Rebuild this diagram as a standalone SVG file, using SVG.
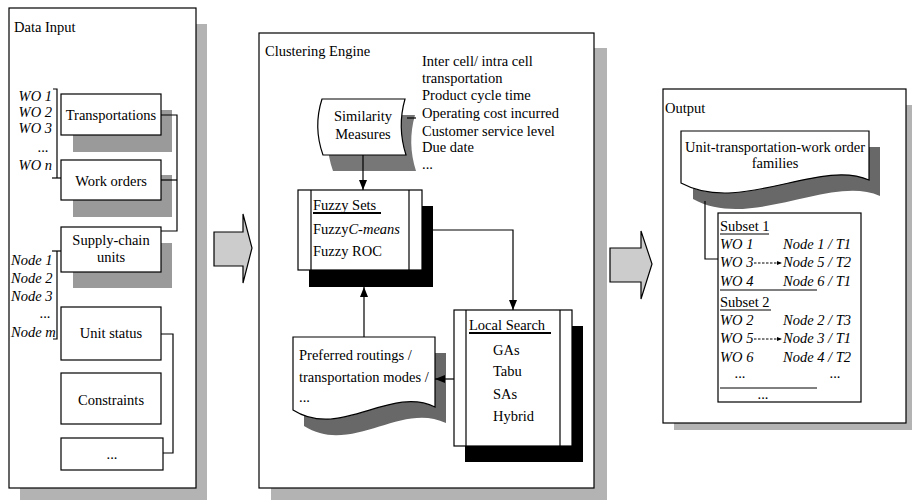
<svg xmlns="http://www.w3.org/2000/svg" width="912" height="501" viewBox="0 0 912 501">
  <defs>
    <style>
      text { font-family: "Liberation Serif", "Times New Roman", serif; font-size: 14.5px; fill: #000; }
      .it { font-style: italic; }
      .mid { text-anchor: middle; }
      .end { text-anchor: end; }
      .panel { fill: #fff; stroke: #000; stroke-width: 1.2; }
      .pshadow { fill: #b3b3b3; }
      .box { fill: #fff; stroke: #000; stroke-width: 1.2; }
      .bshadow { fill: #9a9a9a; }
      .dshadow { fill: #686868; }
      .line { fill: none; stroke: #000; stroke-width: 1.2; }
      .uline { stroke: #000; stroke-width: 1; }
      .uthick { stroke: #000; stroke-width: 2; }
      .dash { fill: none; stroke: #000; stroke-width: 1; stroke-dasharray: 2.5 1.5; }
      .big { fill: #cccccc; stroke: #000; stroke-width: 1.2; }
    </style>
    <marker id="ah" markerWidth="10" markerHeight="10" viewBox="0 0 10 10" refX="10" refY="5" orient="auto" markerUnits="userSpaceOnUse">
      <path d="M0,1 L10,5 L0,9 Z" fill="#000"/>
    </marker>
    <marker id="ahs" markerWidth="5" markerHeight="5" viewBox="0 0 10 10" refX="10" refY="5" orient="auto" markerUnits="userSpaceOnUse">
      <path d="M0,1 L10,5 L0,9 Z" fill="#000"/>
    </marker>
  </defs>

  <!-- ===== Data Input panel ===== -->
  <g id="data-input">
    <rect class="pshadow" x="20" y="24" width="187" height="476"/>
    <rect class="panel" x="9" y="8" width="187" height="480"/>
    <text x="14" y="32">Data Input</text>
  </g>

  <g id="transportations">
    <rect class="bshadow" x="73" y="110" width="99" height="42"/>
    <rect class="box" x="61" y="94" width="100" height="41"/>
    <text class="mid" x="111" y="120">Transportations</text>
  </g>

  <g id="work-orders">
    <rect class="bshadow" x="73" y="175" width="99" height="42"/>
    <rect class="box" x="61" y="160" width="100" height="40"/>
    <text class="mid" x="111" y="186">Work orders</text>
  </g>

  <g id="supply-chain-units">
    <rect class="bshadow" x="73" y="243" width="99" height="45"/>
    <rect class="box" x="61" y="227" width="100" height="45"/>
    <text class="mid" x="111" y="245">Supply-chain</text>
    <text class="mid" x="111" y="262">units</text>
  </g>

  <g id="unit-status">
    <rect class="box" x="61" y="307" width="100" height="53"/>
    <text class="mid" x="111" y="338">Unit status</text>
  </g>

  <g id="constraints">
    <rect class="box" x="61" y="373" width="100" height="51"/>
    <text class="mid" x="111" y="405">Constraints</text>
  </g>

  <g id="other-input">
    <rect class="box" x="61" y="438" width="102" height="32"/>
    <text class="mid" x="112" y="459">...</text>
  </g>

  <g id="wo-list">
    <text class="it end" x="52" y="101">WO 1</text>
    <text class="it end" x="52" y="117">WO 2</text>
    <text class="it end" x="52" y="133">WO 3</text>
    <text class="mid" x="43" y="152">...</text>
    <text class="it end" x="52" y="170">WO n</text>
  </g>

  <g id="node-list">
    <text class="it" x="11" y="265">Node 1</text>
    <text class="it" x="11" y="283">Node 2</text>
    <text class="it" x="11" y="301">Node 3</text>
    <text class="mid" x="45" y="318">...</text>
    <text class="it" x="11" y="337">Node m</text>
  </g>

  <!-- ===== Clustering Engine panel ===== -->
  <g id="clustering-engine">
    <rect class="pshadow" x="271" y="48" width="336" height="452"/>
    <rect class="panel" x="259" y="33" width="335" height="455"/>
    <text x="265" y="56">Clustering Engine</text>
  </g>

  <g id="criteria">
    <text x="422" y="66">Inter cell/ intra cell</text>
    <text x="422" y="83">transportation</text>
    <text x="422" y="100">Product cycle time</text>
    <text x="422" y="118">Operating cost incurred</text>
    <text x="422" y="136">Customer service level</text>
    <text x="422" y="152">Due date</text>
    <text x="422" y="169">...</text>
  </g>

  <g id="similarity-measures">
    <path fill="#777" d="M332,115 L415,115 Q407,143 416,171 L333,171 Q323,143 332,115 Z"/>
    <path class="box" d="M322,99 L405,99 Q397,127 406,155 L323,155 Q313,127 322,99 Z"/>
    <text class="mid" x="363" y="121">Similarity</text>
    <text class="mid" x="363" y="139">Measures</text>
  </g>

  <g id="fuzzy-sets">
    <rect fill="#000" x="309" y="206" width="124" height="81"/>
    <rect class="box" x="298" y="190" width="124" height="80"/>
    <line class="line" x1="311" y1="190" x2="311" y2="270"/>
    <line class="line" x1="409" y1="190" x2="409" y2="270"/>
    <text x="313" y="210">Fuzzy Sets</text>
    <line class="uthick" x1="313" y1="213" x2="381" y2="213"/>
    <text x="313" y="234">Fuzzy<tspan class="it">C-means</tspan></text>
    <text x="313" y="256">Fuzzy ROC</text>
  </g>

  <g id="local-search">
    <rect fill="#000" x="465" y="326" width="118" height="136"/>
    <rect class="box" x="454" y="310" width="118" height="136"/>
    <line class="line" x1="466" y1="310" x2="466" y2="446"/>
    <line class="line" x1="560" y1="310" x2="560" y2="446"/>
    <text x="469" y="330">Local Search</text>
    <line class="uthick" x1="469" y1="333" x2="551" y2="333"/>
    <text x="493" y="355">GAs</text>
    <text x="493" y="376">Tabu</text>
    <text x="493" y="399">SAs</text>
    <text x="493" y="421">Hybrid</text>
  </g>

  <g id="preferred-routings">
    <path class="dshadow" d="M304,353 L446,353 L446,423 C401,401 351,456 304,426 Z"/>
    <path class="box" d="M293,337 L435,337 L435,407 C390,385 340,440 293,410 Z"/>
    <text x="299" y="360">Preferred routings /</text>
    <text x="299" y="382">transportation modes /</text>
    <text x="299" y="402">...</text>
  </g>

  <!-- ===== Output panel ===== -->
  <g id="output">
    <rect class="pshadow" x="674" y="105" width="238" height="325"/>
    <rect class="panel" x="663" y="89" width="243" height="334"/>
    <text x="665" y="113">Output</text>
  </g>

  <g id="families">
    <path class="dshadow" d="M693,147 L880,147 L880,196 C831,174 751,231 693,199 Z"/>
    <path class="box" d="M681,131 L869,131 L869,180 C820,158 740,215 681,183 Z"/>
    <text class="mid" x="775" y="152">Unit-transportation-work order</text>
    <text class="mid" x="775" y="168">families</text>
  </g>

  <g id="subsets">
    <rect class="box" x="718" y="213" width="143" height="189"/>
    <text x="720" y="231">Subset 1</text>
    <line class="uline" x1="720" y1="234" x2="769" y2="234"/>
    <text class="it" x="720" y="249">WO 1</text>
    <text class="it" x="783" y="249">Node 1 / T1</text>
    <text class="it" x="720" y="267">WO 3</text>
    <text class="it" x="783" y="267">Node 5 / T2</text>
    <text class="it" x="720" y="286">WO 4</text>
    <text class="it" x="783" y="286">Node 6 / T1</text>
    <line class="uline" x1="720" y1="290" x2="817" y2="290"/>
    <text x="720" y="307">Subset 2</text>
    <line class="uline" x1="720" y1="310" x2="771" y2="310"/>
    <text class="it" x="720" y="325">WO 2</text>
    <text class="it" x="783" y="325">Node 2 / T3</text>
    <text class="it" x="720" y="343">WO 5</text>
    <text class="it" x="783" y="343">Node 3 / T1</text>
    <text class="it" x="720" y="362">WO 6</text>
    <text class="it" x="783" y="362">Node 4 / T2</text>
    <text class="mid" x="740" y="378">...</text>
    <text class="mid" x="835" y="378">...</text>
    <line class="uline" x1="720" y1="388" x2="817" y2="388"/>
    <text class="mid" x="763" y="399">...</text>
    <line class="dash" x1="754" y1="263" x2="782" y2="263" marker-end="url(#ahs)"/>
    <line class="dash" x1="754" y1="339" x2="782" y2="339" marker-end="url(#ahs)"/>
  </g>

  <!-- ===== Flow arrows between panels ===== -->
  <g id="flow-arrows">
    <path class="big" d="M214,232 L243,232 L243,214 L252,248 L243,283 L243,266 L214,266 Z"/>
    <path class="big" d="M610,248 L641,248 L641,231 L652,264 L641,299 L641,282 L610,282 Z"/>
  </g>

  <!-- ===== Connectors ===== -->
  <g id="connectors">
    <!-- input bracket: transportations / work orders / supply-chain units -->
    <polyline class="line" points="161,115 177,115 177,231 161,231"/>
    <line class="line" x1="161" y1="180" x2="177" y2="180"/>
    <!-- input bracket: unit status / other -->
    <polyline class="line" points="161,334 173,334 173,453 163,453"/>
    <!-- WO bracket -->
    <polyline class="line" points="53,89 57,89 57,178"/>
    <line class="line" x1="52" y1="178" x2="61" y2="178"/>
    <!-- Node bracket -->
    <polyline class="line" points="52,251 61,251"/>
    <polyline class="line" points="57,251 57,339 53,339"/>
    <!-- clustering engine flow -->
    <line class="line" x1="407" y1="118" x2="416" y2="118"/>
    <line class="line" x1="363" y1="155" x2="363" y2="190" marker-end="url(#ah)"/>
    <polyline class="line" points="422,230 513,230 513,310" marker-end="url(#ah)"/>
    <line class="line" x1="454" y1="379" x2="435" y2="379" marker-end="url(#ah)"/>
    <line class="line" x1="364" y1="337" x2="364" y2="287" marker-end="url(#ah)"/>
    <!-- output flow -->
    <polyline class="line" points="705,201 705,259 718,259"/>
  </g>
</svg>
